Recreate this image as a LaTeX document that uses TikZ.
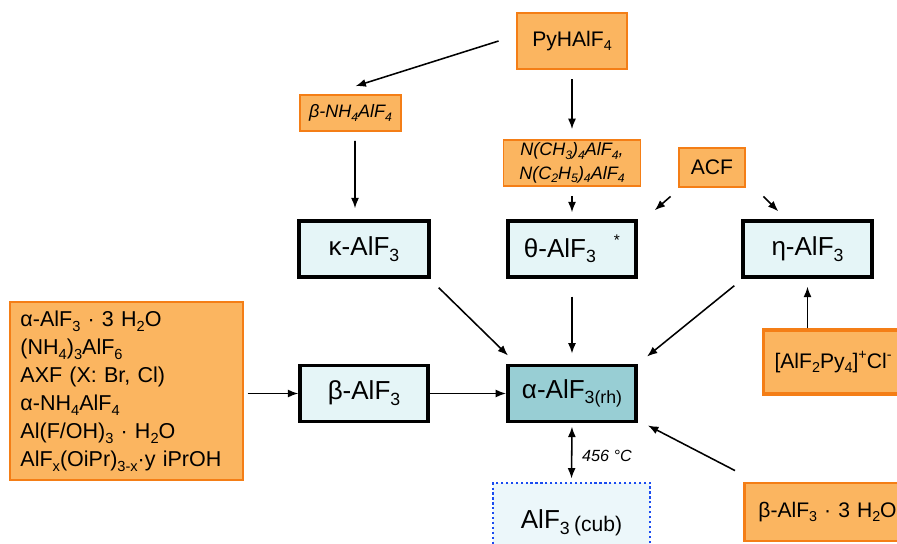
\documentclass[tikz,border=0pt]{standalone}
\usepackage{fontspec}
\setmainfont{Liberation Sans}
\usepackage{graphicx}
\usetikzlibrary{arrows.meta}
\definecolor{orfill}{RGB}{251,181,96}
\definecolor{orline}{RGB}{244,126,22}
\definecolor{icefill}{RGB}{229,245,247}
\definecolor{tealfill}{RGB}{152,206,212}
\definecolor{cubfill}{RGB}{236,247,250}
\definecolor{cubline}{RGB}{25,75,240}
\newcommand{\chsub}[1]{\raisebox{-0.22em}{\scalebox{0.68}{#1}}}
\newcommand{\chsup}[1]{\raisebox{0.42em}{\scalebox{0.68}{#1}}}
\begin{document}
\begin{tikzpicture}[x=0.025cm, y=-0.025cm,
  arr/.style={-{Latex[length=2.6mm,width=2mm]}, line width=1.1pt},
  dblarr/.style={{Latex[length=2.6mm,width=2mm]}-{Latex[length=2.6mm,width=2mm]}, line width=1.1pt},
  orangebox/.style={draw=orline, fill=orfill, line width=2pt, inner sep=0pt},
  smallbox/.style={draw=orline, fill=orfill, line width=1.2pt, inner sep=0pt, font=\fontsize{12.8}{16.4}\selectfont\itshape},
  icebox/.style={draw=black, fill=icefill, line width=2.4pt, inner sep=0pt, minimum height=1.4cm, font=\fontsize{18.5}{22}\selectfont},
  cubbox/.style={draw=cubline, fill=cubfill, line width=1.8pt, dash pattern=on 1.6pt off 1.9pt, inner sep=0pt, font=\fontsize{18.5}{22}\selectfont}]
\useasboundingbox (0,0) rectangle (897,544);
\clip (0,0) rectangle (897,544);
% sources
\node[orangebox, minimum width=2.75cm, minimum height=1.4cm, font=\fontsize{15}{18}\selectfont] (pyh) at (572,41) {PyHAlF\chsub{4}};
\node[smallbox, minimum width=2.525cm, minimum height=0.9cm] (nh) at (350.5,113) {β-NH\chsub{4}AlF\chsub{4}};
\node[smallbox, minimum width=3.425cm, minimum height=1.15cm, align=center] (nme) at (572,163) {N(CH\chsub{3})\chsub{4}AlF\chsub{4},\\N(C\chsub{2}H\chsub{5})\chsub{4}AlF\chsub{4}};
\node[orangebox, minimum width=1.65cm, minimum height=0.975cm, font=\fontsize{15}{18}\selectfont] (acf) at (712,167.5) {ACF};
\node[orangebox, minimum width=5.825cm, minimum height=4.45cm, text width=5.3cm, inner xsep=0.26cm, align=left, font=\fontsize{15.3}{19.9}\selectfont] (lft) at (126.5,391) {α-AlF\chsub{3} · 3 H\chsub{2}O\\(NH\chsub{4})\chsub{3}AlF\chsub{6}\\AXF (X: Br, Cl)\\α-NH\chsub{4}AlF\chsub{4}\\Al(F/OH)\chsub{3} · H\chsub{2}O\\AlF\chsub{x}(OiPr)\chsub{3-x}·y iPrOH};
\node[orangebox, anchor=west, line width=2.2pt, minimum height=1.6cm, text width=4.6cm, inner xsep=0.275cm, align=left, font=\fontsize{15}{18}\selectfont] (apy) at (762,362) {[AlF\chsub{2}Py\chsub{4}]\chsup{+}Cl\chsup{-}};
\node[orangebox, anchor=west, minimum height=1.45cm, text width=4.3cm, inner xsep=0.35cm, align=left, font=\fontsize{15}{18}\selectfont] (b3h) at (743,512) {β-AlF\chsub{3} · 3 H\chsub{2}O};
% phases
\node[icebox, minimum width=3.25cm] (kap) at (364,249) {κ-AlF\chsub{3}};
\node[icebox, minimum width=3.2cm] (tht) at (572,249) {θ-AlF\chsub{3}\hspace{0.45cm}\raisebox{0.45em}{\fontsize{11}{13}\selectfont *}};
\node[icebox, minimum width=3.225cm] (eta) at (807.5,249) {η-AlF\chsub{3}};
\node[icebox, minimum width=3.2cm] (bet) at (364,393.5) {β-AlF\chsub{3}};
\node[icebox, fill=tealfill, line width=2.8pt, minimum width=3.2cm] (alp) at (572,393.5) {α-AlF\chsub{3(rh)}};
\node[cubbox, minimum width=3.925cm, minimum height=2cm] (cub) at (571.5,523) {AlF\chsub{3}\,\raisebox{-0.1em}{\fontsize{15}{18}\selectfont(cub)}};
\node[font=\fontsize{11.5}{13}\selectfont\itshape] (tlab) at (607,456) {456 °C};
% arrows
\draw[arr] ([shift={(-17,0)}]pyh.west) -- ([shift={(5,-8)}]nh.north);
\draw[arr] ([shift={(0,9)}]pyh.south) -- ([shift={(0,-10)}]nme.north);
\draw[arr] ([shift={(4.5,9)}]nh.south) -- ([shift={(-9,-11)}]kap.north);
\draw[arr] ([shift={(0,9)}]nme.south) -- ([shift={(0,-7)}]tht.north);
\draw[arr] ([shift={(-7,8)}]acf.south west) -- ([shift={(17,-9)}]tht.north east);
\draw[arr] ([shift={(17,8)}]acf.south east) -- ([shift={(37,-8)}]eta.north west);
\draw[arr] ([shift={(8,9)}]kap.south east) -- ([shift={(2,-8)}]alp.north west);
\draw[arr] ([shift={(0,18)}]tht.south) -- ([shift={(0,-10)}]alp.north);
\draw[arr] ([shift={(-7,7)}]eta.south west) -- ([shift={(9,-7)}]alp.north east);
\draw[arr, shorten <=0.08cm] (lft.east |- bet.west) -- (bet.west);
\draw[arr] (bet.east) -- (alp.west);
\draw[arr, shorten >=0.2cm] (eta.south |- apy.north) -- (eta.south);
\draw[arr] ([shift={(-8,-11)}]b3h.north west) -- ([shift={(10,2)}]alp.south east);
\draw[dblarr, shorten <=0.08cm, shorten >=0.08cm] (alp.south) -- (cub.north);
\end{tikzpicture}
\end{document}
